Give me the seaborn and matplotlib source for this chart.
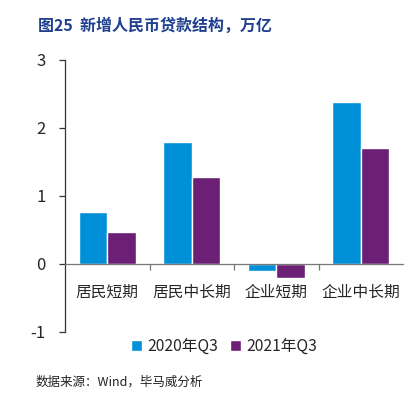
import pandas as pd
import seaborn as sns
import matplotlib.pyplot as plt

# data
categories = ['居民短期', '居民中长期', '企业短期', '企业中长期']
q3_2020 = [0.77, 1.79, -0.11, 2.38]
q3_2021 = [0.475, 1.28, -0.20, 1.70]
periods = ['2020年Q3', '2021年Q3']
colors = ['#0090D8', '#6B1F75']

df = pd.DataFrame({
    'cat': categories * 2,
    'val': q3_2020 + q3_2021,
    'period': [periods[0]] * 4 + [periods[1]] * 4,
})

sns.set_style('white')
plt.rcParams['font.family'] = ['Noto Sans CJK SC', 'DejaVu Sans']

fig = plt.figure(figsize=(4.11, 3.96), dpi=100)
ax = fig.add_axes([65 / 411, 1 - 332 / 396, 338 / 411, 272 / 396])

sns.barplot(data=df, x='cat', y='val', hue='period', palette=colors,
            width=0.67, ax=ax, saturation=1)

ax.set_ylim(-1, 3)
ax.set_xlim(-0.5, 3.5)
ax.set_yticks([-1, 0, 1, 2, 3])
ax.set_yticklabels(['-1', '0', '1', '2', '3'], fontsize=12)
ax.set_xlabel('')
ax.set_ylabel('')

for s in ['top', 'right']:
    ax.spines[s].set_visible(False)
ax.spines['left'].set_color('#333333')
ax.spines['left'].set_linewidth(0.9)
ax.spines['bottom'].set_position(('data', 0))
ax.spines['bottom'].set_color('#777777')
ax.spines['bottom'].set_linewidth(0.9)

ax.tick_params(axis='y', which='major', direction='out', length=4, width=0.9,
               color='#333333', pad=10, left=True)
ax.set_xticks([0, 1, 2, 3])
ax.set_xticklabels(categories, fontsize=11.3)
ax.tick_params(axis='x', which='major', length=0, pad=14)
ax.set_xticks([0.5, 1.5, 2.5], minor=True)
ax.tick_params(axis='x', which='minor', direction='out', length=4, width=0.9,
               color='#777777', bottom=True)

handles, labels = ax.get_legend_handles_labels()
ax.get_legend().remove()
fig.legend(handles, labels, loc='center', bbox_to_anchor=(224 / 411, 1 - 346 / 396),
           ncol=2, frameon=False, fontsize=11.3, handlelength=0.7, handleheight=0.7,
           handletextpad=0.3, columnspacing=0.8)

fig.text(38 / 411, 1 - 26 / 396, '图25  新增人民币贷款结构，万亿', fontsize=11.5,
         fontweight='bold', color='#1F3F8F', va='center', ha='left')
fig.text(36 / 411, 1 - 382 / 396, '数据来源：Wind，毕马威分析', fontsize=9,
         color='#222222', va='center', ha='left')

fig.savefig('out.png', dpi=100)
